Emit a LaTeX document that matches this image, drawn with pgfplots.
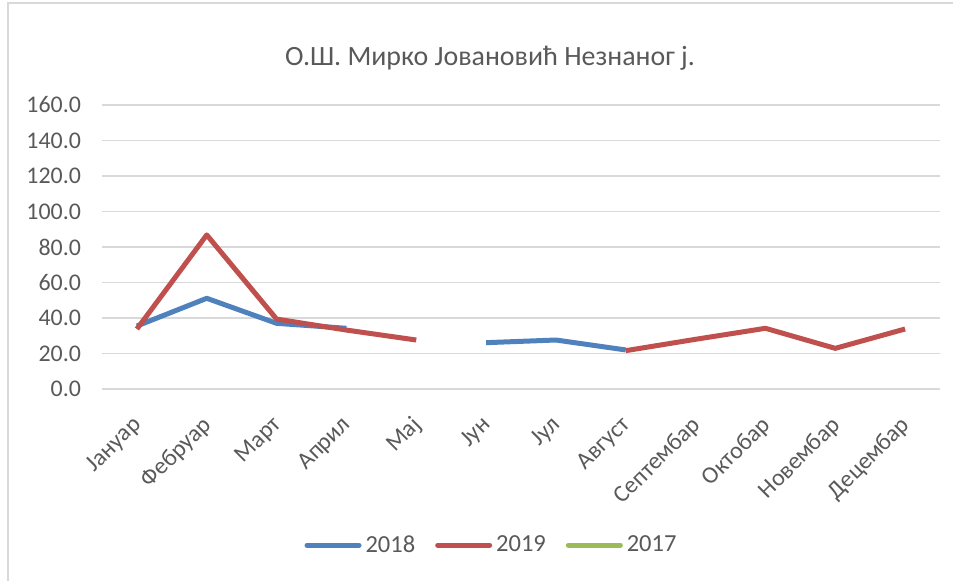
\documentclass[border=0pt]{standalone}
\usepackage{fontspec}
\setmainfont{Carlito}
\usepackage{pgfplots}
\pgfplotsset{compat=1.18}

\definecolor{s2018}{HTML}{4F81BD}
\definecolor{s2019}{HTML}{C0504D}
\definecolor{s2017}{HTML}{9BBB59}
\definecolor{txtgray}{HTML}{595959}
\definecolor{gridgray}{HTML}{D9D9D9}

\begin{document}
\begin{tikzpicture}
\begin{axis}[
    at={(0,0)}, anchor=south west,
    scale only axis, width=419bp, height=142bp,
    xmin=-0.5, xmax=11.5,
    ymin=0, ymax=160,
    xtick={0,...,11},
    xticklabels={Јануар,Фебруар,Март,Април,Мај,Јун,Јул,Август,Септембар,Октобар,Новембар,Децембар},
    ytick={0,20,...,160},
    axis line style={draw=none},
    major tick length=0pt,
    ymajorgrids=true,
    grid style={gridgray, line width=0.8bp},
    tick label style={font=\fontsize{12}{14}\selectfont, text=txtgray},
    x tick label style={rotate=45, anchor=north east, xshift=-7.6bp, yshift=-3.5bp},
    y tick label style={xshift=-7bp},
    yticklabel style={/pgf/number format/.cd, fixed, fixed zerofill, precision=1, assume math mode=true},
    unbounded coords=jump,
    legend columns=-1,
    legend style={draw=none, fill=none, at={(0.466,-0.55)}, anchor=center,
        font=\fontsize{12.3}{14}\selectfont, text=txtgray,
        /tikz/every even column/.append style={column sep=8bp}},
    legend image code/.code={\draw[#1, line width=2.5bp, line cap=round] (0bp,0bp) -- (26bp,0bp);},
    clip=false,
]
% 2018
\addplot[s2018, line width=2.5bp, line join=round] coordinates {
    (0,35.5)(1,51.1)(2,37.0)(3,34.2)(4,nan)(5,26.1)(6,27.6)(7,22.0)
    (8,nan)(9,nan)(10,nan)(11,nan)
};
\addlegendentry{2018}
% 2019
\addplot[s2019, line width=2.5bp, line join=round] coordinates {
    (0,33.8)(1,86.8)(2,39.4)(3,33.2)(4,27.6)(5,nan)(6,nan)(7,21.6)
    (8,28.0)(9,34.2)(10,22.9)(11,33.8)
};
\addlegendentry{2019}
% 2017 has no values
\addlegendimage{s2017}
\addlegendentry{2017}
\node[font=\fontsize{14}{16}\selectfont, text=txtgray]
    at (rel axis cs:0.463,1.165) {О.Ш. Мирко Јовановић Незнаног ј.};
\end{axis}
% chart frame (left and top edges visible)
\draw[gridgray, line width=1bp] (-47bp,-96bp) -- (-47bp,193bp) -- (425.5bp,193bp);
\pgfresetboundingbox
\useasboundingbox (-51bp,-96bp) rectangle (425.5bp,194.5bp);
\end{tikzpicture}
\end{document}
